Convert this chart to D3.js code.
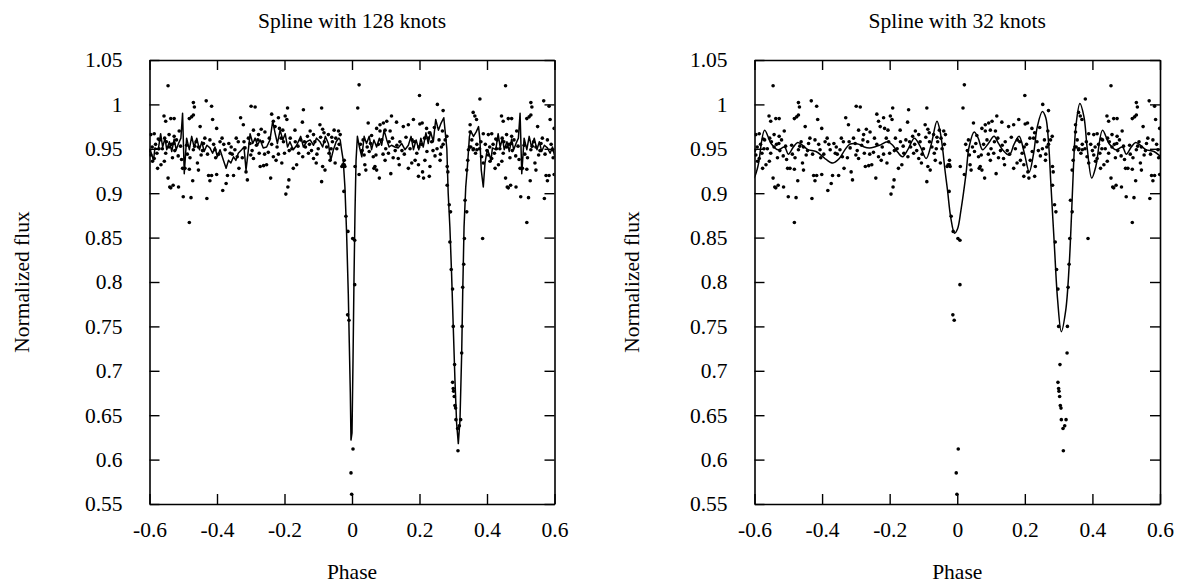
<!DOCTYPE html>
<html><head><meta charset="utf-8">
<script src="https://cdn.jsdelivr.net/npm/d3@7"></script>
<style>
body{margin:0;background:#fff}
svg text{font-family:"Liberation Serif","Times New Roman",serif;fill:#000}
</style>
</head><body>
<svg id="chart" width="1188" height="588"></svg>
<script>
// ---------- data (one period of phase, folded light curve) ----------
const phaseTicks = [-0.6,-0.4,-0.2,0,0.2,0.4,0.6];
const fluxTicks = [0.55,0.6,0.65,0.7,0.75,0.8,0.85,0.9,0.95,1,1.05];
const panelTitles = ["Spline with 128 knots","Spline with 32 knots"];
const xLabel = "Phase";
const yLabel = "Normalized flux";

const obsUpper = [
[-0.470,1.002],[-0.467,0.997],[-0.432,1.004],[-0.416,0.998],[-0.482,0.984],[-0.475,0.986],[-0.470,0.988],[-0.413,0.983],
[-0.330,0.985],[-0.299,0.998],[-0.287,0.997],[-0.238,0.989],[-0.218,0.985],[-0.198,0.987],[-0.193,0.983],[-0.191,0.996],
[-0.144,0.994],[-0.090,0.996],[-0.147,0.980],[-0.095,0.977],[-0.087,0.972],[-0.083,0.968],[-0.053,0.971],[-0.450,0.975],
[-0.401,0.973],[-0.322,0.977],[-0.292,0.971],[-0.277,0.966],[-0.269,0.972],[-0.258,0.969],[-0.233,0.981],[-0.228,0.975],
[-0.215,0.973],[-0.205,0.971],[-0.169,0.971],[-0.124,0.970],[-0.114,0.966],[-0.070,0.966],[-0.060,0.963],[-0.040,0.970],
[-0.035,0.966],
[0.117,0.987],[0.200,1.010],[0.253,1.000],[0.270,0.993],[0.379,1.006],[0.455,1.021],[0.359,0.991],[0.364,0.987],
[0.369,0.983],[0.443,0.987],[0.463,0.984],[0.473,0.984],[0.048,0.979],[0.083,0.977],[0.093,0.979],[0.103,0.981],
[0.132,0.980],[0.152,0.975],[0.167,0.977],[0.182,0.983],[0.201,0.978],[0.221,0.973],[0.229,0.968],[0.244,0.974],
[0.073,0.973],[0.083,0.970],[0.098,0.971],[0.113,0.970],[0.389,0.967],[0.404,0.966],[0.414,0.967],[0.426,0.961],
[0.448,0.981],[0.458,0.966],[0.473,0.964],[0.488,0.970],[0.208,0.979],[0.350,0.977],[0.021,1.022],[0.017,0.996]
];
const obsLower = [
[-0.500,0.896],[-0.477,0.895],[-0.482,0.867],[-0.495,0.928],[-0.482,0.927],[-0.472,0.914],[-0.458,0.934],[-0.455,0.926],
[-0.430,0.894],[-0.425,0.920],[-0.421,0.914],[-0.416,0.920],[-0.401,0.921],[-0.383,0.903],[-0.373,0.911],[-0.369,0.920],
[-0.351,0.920],[-0.335,0.928],[-0.314,0.924],[-0.310,0.915],[-0.292,0.939],[-0.272,0.930],[-0.262,0.931],[-0.253,0.932],
[-0.241,0.917],[-0.233,0.941],[-0.225,0.937],[-0.208,0.934],[-0.196,0.899],[-0.190,0.907],[-0.187,0.915],[-0.174,0.928],
[-0.164,0.932],[-0.146,0.941],[-0.129,0.945],[-0.114,0.939],[-0.106,0.934],[-0.090,0.913],[-0.087,0.930],[-0.080,0.926],
[-0.065,0.937],[-0.050,0.934],[-0.027,0.932],[-0.023,0.932],
[0.021,0.921],[0.038,0.932],[0.068,0.930],[0.073,0.926],[0.081,0.917],[0.036,0.943],[0.051,0.947],[0.063,0.941],
[0.071,0.943],[0.115,0.922],[0.140,0.932],[0.167,0.928],[0.177,0.934],[0.187,0.937],[0.197,0.932],[0.209,0.924],
[0.216,0.937],[0.229,0.919],[0.231,0.930],[0.197,0.919],[0.212,0.917],[0.246,0.942],[0.261,0.937],[0.137,0.939],
[0.122,0.940],[0.108,0.945],[0.098,0.937],[0.352,0.952],[0.359,0.949],[0.366,0.945],[0.384,0.941],[0.389,0.934],
[0.404,0.943],[0.409,0.936],[0.414,0.939],[0.424,0.928],[0.434,0.932],[0.444,0.936],[0.448,0.945],[0.458,0.952],
[0.455,0.917],[0.460,0.907],[0.470,0.909],[0.463,0.906],[0.486,0.907],[0.387,0.849],[0.498,0.928],[0.065,0.928],
[0.041,0.926]
];
const obsMid = [
[-0.490,0.954],[-0.470,0.949],[-0.455,0.952],[-0.440,0.956],[-0.421,0.960],[-0.406,0.949],[-0.391,0.958],[-0.376,0.949],
[-0.361,0.945],[-0.347,0.949],[-0.337,0.958],[-0.317,0.951],[-0.302,0.956],[-0.488,0.944],[-0.462,0.958],[-0.447,0.943],
[-0.436,0.962],[-0.410,0.955],[-0.395,0.944],[-0.385,0.962],[-0.365,0.956],[-0.355,0.944],[-0.343,0.962],[-0.325,0.940],
[-0.307,0.962],[-0.296,0.948],[-0.283,0.954],[-0.275,0.945],[-0.265,0.958],[-0.248,0.946],[-0.245,0.962],[-0.222,0.952],
[-0.210,0.962],[-0.200,0.945],[-0.183,0.962],[-0.178,0.950],[-0.168,0.958],[-0.158,0.945],[-0.152,0.960],[-0.138,0.952],
[-0.132,0.964],[-0.120,0.948],[-0.110,0.958],[-0.100,0.950],[-0.093,0.963],[-0.075,0.952],[-0.068,0.945],[-0.058,0.958],
[-0.045,0.950],[-0.038,0.955],
[-0.480,0.940],[-0.466,0.953],[-0.443,0.948],[-0.428,0.944],[-0.404,0.940],[-0.380,0.955],[-0.358,0.952],[-0.340,0.941],
[-0.320,0.958],[-0.300,0.943],[-0.279,0.960],[-0.259,0.944],[-0.238,0.955],[-0.218,0.944],[-0.203,0.958],[-0.186,0.948],
[-0.160,0.953],[-0.141,0.958],[-0.126,0.955],[-0.104,0.944],[-0.082,0.958],[-0.062,0.950],[-0.048,0.962],
[0.025,0.955],[0.033,0.960],[0.045,0.952],[0.058,0.965],[0.078,0.955],[0.088,0.960],[0.100,0.950],[0.120,0.962],
[0.128,0.948],[0.142,0.958],[0.148,0.948],[0.160,0.963],[0.172,0.950],[0.185,0.958],[0.192,0.945],[0.205,0.955],
[0.215,0.962],[0.222,0.947],[0.236,0.958],[0.240,0.948],[0.258,0.960],[0.265,0.952],[0.268,0.970],[0.355,0.960],
[0.370,0.955],[0.378,0.950],[0.395,0.955],[0.400,0.948],[0.418,0.955],[0.422,0.945],[0.430,0.960],[0.438,0.950],
[0.450,0.958],[0.465,0.955],[0.475,0.948],[0.480,0.960],[0.492,0.953],[0.468,0.940],[0.485,0.942],[0.495,0.938],
[0.345,0.949],[0.360,0.950],[0.370,0.949],[0.276,0.960],[0.270,0.955],
[0.030,0.948],[0.055,0.956],[0.092,0.944],[0.110,0.958],[0.133,0.954],[0.155,0.944],[0.178,0.960],[0.198,0.952],
[0.226,0.962],[0.252,0.950],[0.262,0.944],[0.382,0.958],[0.408,0.952],[0.428,0.950],[0.445,0.962],[0.472,0.956]
];
const obsPrimary = [
[-0.030,0.930],[-0.021,0.930],[0.009,0.930],[-0.023,0.937],[-0.024,0.902],[-0.018,0.874],[-0.012,0.857],[0.002,0.849],
[0.008,0.847],[0.008,0.797],[-0.013,0.763],[-0.009,0.757],[0.003,0.612],[-0.003,0.585],[-0.001,0.561]
];
const obsSecondary = [
[0.281,0.964],[0.282,0.930],[0.284,0.924],[0.282,0.909],[0.288,0.887],[0.292,0.879],[0.290,0.845],[0.294,0.814],
[0.298,0.792],[0.300,0.750],[0.304,0.707],[0.298,0.687],[0.300,0.680],[0.301,0.677],[0.303,0.671],[0.305,0.661],
[0.307,0.658],[0.308,0.645],[0.313,0.635],[0.318,0.638],[0.322,0.645],[0.314,0.610],
[0.325,0.720],[0.326,0.750],[0.328,0.794],[0.331,0.820],[0.333,0.849],[0.340,0.879],[0.335,0.892],[0.340,0.926],
[0.343,0.937],[0.348,0.952],[0.350,0.969]
];

// spline with 128 knots (one period)
const spline128 = [
[-0.502,0.990],[-0.497,0.922],[-0.490,0.962],[-0.482,0.949],[-0.475,0.964],[-0.468,0.952],[-0.460,0.962],[-0.452,0.949],
[-0.445,0.958],[-0.438,0.947],[-0.430,0.954],[-0.421,0.951],[-0.413,0.945],[-0.406,0.952],[-0.399,0.941],[-0.391,0.949],
[-0.381,0.937],[-0.373,0.928],[-0.366,0.937],[-0.359,0.934],[-0.351,0.941],[-0.344,0.937],[-0.337,0.945],[-0.327,0.949],
[-0.320,0.952],[-0.314,0.926],[-0.307,0.949],[-0.302,0.967],[-0.294,0.956],[-0.287,0.962],[-0.280,0.954],[-0.272,0.960],
[-0.263,0.951],[-0.253,0.952],[-0.243,0.960],[-0.235,0.981],[-0.228,0.968],[-0.221,0.956],[-0.213,0.971],[-0.205,0.960],
[-0.198,0.967],[-0.191,0.952],[-0.184,0.958],[-0.174,0.949],[-0.164,0.954],[-0.152,0.964],[-0.144,0.952],[-0.134,0.958],
[-0.124,0.960],[-0.114,0.954],[-0.105,0.962],[-0.095,0.958],[-0.087,0.952],[-0.079,0.964],[-0.070,0.956],[-0.063,0.937],
[-0.055,0.949],[-0.047,0.958],[-0.039,0.962],[-0.035,0.960],[-0.031,0.949],[-0.026,0.937],[-0.021,0.907],[-0.016,0.855],
[-0.011,0.787],[-0.008,0.731],[-0.005,0.675],[-0.003,0.622],[0.000,0.630],[0.003,0.712],[0.006,0.806],[0.009,0.881],
[0.012,0.937],[0.016,0.964],[0.022,0.952],[0.029,0.941],[0.036,0.964],[0.043,0.956],[0.051,0.964],[0.058,0.949],
[0.065,0.960],[0.073,0.952],[0.081,0.962],[0.088,0.954],[0.095,0.971],[0.103,0.960],[0.110,0.952],[0.117,0.954],
[0.127,0.952],[0.137,0.951],[0.147,0.956],[0.157,0.949],[0.167,0.954],[0.175,0.964],[0.182,0.949],[0.190,0.960],
[0.198,0.949],[0.204,0.962],[0.211,0.952],[0.219,0.968],[0.226,0.956],[0.233,0.969],[0.241,0.958],[0.248,0.983],
[0.256,0.971],[0.264,0.979],[0.272,0.985],[0.278,0.962],[0.281,0.950],[0.285,0.900],[0.290,0.862],[0.295,0.810],
[0.300,0.750],[0.305,0.690],[0.310,0.641],[0.315,0.618],[0.320,0.645],[0.325,0.720],[0.328,0.787],[0.332,0.862],
[0.337,0.907],[0.342,0.930],[0.348,0.964],[0.352,0.970],[0.360,0.964],[0.368,0.969],[0.375,0.975],[0.379,0.960],
[0.383,0.926],[0.389,0.907],[0.394,0.934],[0.399,0.945],[0.402,0.949],[0.412,0.937],[0.416,0.951],[0.426,0.949],
[0.433,0.967],[0.439,0.952],[0.446,0.962],[0.451,0.949],[0.459,0.958],[0.466,0.947],[0.473,0.961],[0.479,0.949],
[0.486,0.956],[0.493,0.962]
];

// spline with 32 knots (one period)
const spline32 = [
[-0.500,0.944],[-0.485,0.952],[-0.472,0.957],[-0.455,0.953],[-0.442,0.949],[-0.418,0.947],[-0.400,0.942],[-0.388,0.938],
[-0.368,0.934],[-0.349,0.939],[-0.334,0.948],[-0.319,0.955],[-0.305,0.956],[-0.290,0.955],[-0.275,0.952],[-0.260,0.951],
[-0.245,0.952],[-0.230,0.954],[-0.206,0.958],[-0.191,0.954],[-0.176,0.946],[-0.162,0.941],[-0.145,0.950],[-0.127,0.962],
[-0.110,0.953],[-0.092,0.939],[-0.077,0.955],[-0.060,0.981],[-0.050,0.968],[-0.043,0.949],[-0.036,0.925],[-0.029,0.904],
[-0.019,0.872],[-0.008,0.855],[0.001,0.860],[0.011,0.881],[0.026,0.922],[0.035,0.952],[0.050,0.969],[0.062,0.962],
[0.075,0.949],[0.092,0.956],[0.109,0.964],[0.122,0.956],[0.134,0.949],[0.154,0.943],[0.168,0.955],[0.183,0.964],
[0.198,0.946],[0.213,0.924],[0.226,0.945],[0.237,0.975],[0.252,0.992],[0.262,0.985],[0.270,0.958],[0.277,0.911],
[0.287,0.844],[0.297,0.780],[0.308,0.744],[0.321,0.768],[0.331,0.817],[0.338,0.874],[0.344,0.930],[0.351,0.975],
[0.363,1.001],[0.375,0.986],[0.385,0.949],[0.398,0.917],[0.410,0.930],[0.430,0.971],[0.449,0.956],[0.469,0.949],
[0.489,0.952]
];

// ---------- drawing ----------
const svg = d3.select("#chart");
const FONT = 21.5;
const yRange = [504, 60];
const panels = [
  {x0:149.5, x1:554.5, title:panelTitles[0], spline:spline128, curve:d3.curveLinear, ylabX:22},
  {x0:754.5, x1:1160, title:panelTitles[1], spline:spline32, curve:d3.curveCatmullRom.alpha(0.5), ylabX:632}
];
const observations = [].concat(obsUpper, obsLower, obsMid, obsPrimary, obsSecondary);
const fmt = d => String(+(+d).toFixed(2)).replace("\u2212","-");

function periodic(arr){
  const out = [];
  for (const k of [-1,0,1]) for (const [p,f] of arr) out.push([p+k,f]);
  return out.sort((a,b)=>a[0]-b[0]);
}

panels.forEach((P,i) => {
  const x = d3.scaleLinear().domain([-0.6,0.6]).range([P.x0,P.x1]);
  const y = d3.scaleLinear().domain([0.55,1.05]).range(yRange);
  const g = svg.append("g");
  const clipId = "clip"+i;
  svg.append("defs").append("clipPath").attr("id",clipId)
    .append("rect").attr("x",P.x0).attr("y",yRange[1]).attr("width",P.x1-P.x0).attr("height",yRange[0]-yRange[1]);

  const pts = periodic(observations).filter(d => d[0] >= -0.6 && d[0] <= 0.6);
  g.append("g").attr("clip-path",`url(#${clipId})`).selectAll("circle").data(pts).join("circle")
    .attr("cx",d=>x(d[0])).attr("cy",d=>y(d[1])).attr("r",1.8).attr("fill","#000");

  const sp = periodic(P.spline).filter(d => d[0] >= -0.7 && d[0] <= 0.7);
  g.append("path").attr("clip-path",`url(#${clipId})`)
    .attr("d", d3.line().x(d=>x(d[0])).y(d=>y(d[1])).curve(P.curve)(sp))
    .attr("fill","none").attr("stroke","#000").attr("stroke-width",1.5).attr("stroke-linejoin","round");

  const styleAxis = sel => {
    sel.selectAll("path.domain").attr("stroke","#000").attr("stroke-width",1.6);
    sel.selectAll(".tick line").attr("stroke","#000").attr("stroke-width",1.4);
    sel.selectAll("text").attr("font-family","Liberation Serif, Times New Roman, serif").attr("font-size",FONT).attr("fill","#000");
    sel.attr("font-family",null).attr("font-size",null);
  };
  g.append("g").attr("transform",`translate(0,${yRange[0]})`)
    .call(d3.axisBottom(x).tickValues(phaseTicks).tickFormat(fmt).tickSize(-10).tickSizeOuter(0).tickPadding(18)).call(styleAxis);
  g.append("g").attr("transform",`translate(0,${yRange[1]})`)
    .call(d3.axisTop(x).tickValues(phaseTicks).tickFormat("").tickSize(-10).tickSizeOuter(0)).call(styleAxis);
  g.append("g").attr("transform",`translate(${P.x0},0)`)
    .call(d3.axisLeft(y).tickValues(fluxTicks).tickFormat(fmt).tickSize(-10).tickSizeOuter(0).tickPadding(27)).call(styleAxis);
  g.append("g").attr("transform",`translate(${P.x1},0)`)
    .call(d3.axisRight(y).tickValues(fluxTicks).tickFormat("").tickSize(-10).tickSizeOuter(0)).call(styleAxis);

  const cx = (P.x0+P.x1)/2;
  g.append("text").attr("x",cx).attr("y",28).attr("text-anchor","middle").attr("font-size",FONT).text(P.title);
  g.append("text").attr("x",cx).attr("y",579).attr("text-anchor","middle").attr("font-size",FONT).text(xLabel);
  g.append("text").attr("transform",`translate(${P.ylabX+7},282) rotate(-90)`).attr("text-anchor","middle")
    .attr("font-size",FONT).text(yLabel);
});
</script>
</body></html>
